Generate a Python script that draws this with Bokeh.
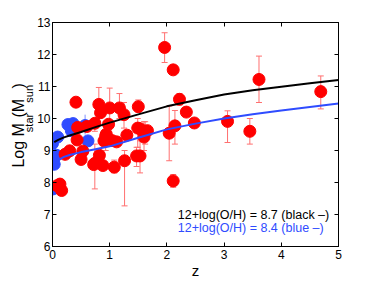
import math
from bokeh.plotting import figure
from bokeh.layouts import row
from bokeh.models import (ColumnDataSource, Whisker, TeeHead, Label, FixedTicker,
                          LinearAxis, Range1d)
from bokeh.embed import file_html
from bokeh.resources import INLINE

# ---- data ----
red_z = [1.96, 2.11, 2.22, 2.34, 2.48, 2.04, 2.14, 2.11, 0.41, 0.81, 0.84, 1.00, 1.17,
         1.25, 1.50, 0.98, 0.74, 0.44, 0.43, 0.22, 0.30, 0.53, 0.50, 0.74, 0.88, 0.82,
         0.90, 0.93, 1.04, 1.12, 1.08, 1.26, 1.30, 1.49, 1.53, 1.47, 1.53, 1.62, 1.66,
         1.60, 0.08, 0.13, 0.16, 3.61, 4.69, 3.06, 3.45, 0.60, 0.72, 0.94]
red_m = [12.22, 11.52, 10.60, 10.20, 9.86, 9.54, 9.77, 8.05, 10.51, 10.44, 10.18, 10.33,
         10.33, 10.12, 10.37, 9.82, 9.85, 9.72, 9.33, 8.88, 8.99, 8.98, 8.72, 8.60, 8.53,
         8.85, 9.30, 9.45, 9.31, 9.27, 8.48, 8.68, 9.48, 9.70, 9.68, 8.83, 8.83, 9.60,
         9.62, 9.42, 7.90, 7.95, 7.75, 11.22, 10.84, 9.91, 9.60, 9.75, 8.56, 9.51]

red_err_z = [1.96, 2.22, 2.04, 2.14, 2.11, 0.81, 1.00, 1.17, 1.25, 1.50, 0.74, 0.74,
             0.93, 1.08, 1.26, 1.49, 1.47, 1.53, 1.62, 1.60, 3.61, 4.69, 3.06, 3.45]
red_err_lo = [11.75, 10.42, 8.68, 9.20, 7.85, 10.00, 9.90, 10.00, 9.70, 10.20, 9.60, 7.80,
              9.00, 8.30, 7.27, 9.10, 8.50, 8.30, 9.20, 9.00, 10.50, 10.30, 9.25, 9.20]
red_err_hi = [12.68, 10.78, 10.39, 10.25, 8.25, 10.97, 10.95, 10.78, 10.50, 10.58, 10.00, 9.20,
              9.90, 8.70, 9.00, 10.00, 9.10, 9.30, 9.90, 9.90, 11.95, 11.33, 10.24, 10.00]

blue_z = [0.00, 0.09, 0.07, 0.03, 0.01, 0.27, 0.36, 0.33, 0.57, 0.62]
blue_m = [9.22, 9.42, 8.85, 8.57, 7.80, 9.81, 9.84, 9.62, 9.78, 9.30]

blue_err_z = [0.00, 0.57]
blue_err_lo = [8.60, 9.50]
blue_err_hi = [9.76, 10.12]

black_z = [0.03, 0.1, 0.2, 0.3, 0.5, 0.75, 1.0, 1.5, 2.0, 2.5, 3.0, 3.5, 4.0, 4.5, 5.0]
black_m = [9.26, 9.33, 9.41, 9.47, 9.58, 9.73, 9.87, 10.13, 10.38, 10.57, 10.75, 10.88,
           10.99, 11.10, 11.20]
blue_line_z = [0.06, 0.1, 0.2, 0.3, 0.5, 0.75, 1.0, 1.5, 2.0, 2.5, 3.0, 3.5, 4.0, 4.5, 5.0]
blue_line_m = [8.60, 8.70, 8.80, 8.86, 8.95, 9.04, 9.13, 9.40, 9.66, 9.84, 10.00, 10.13,
               10.25, 10.36, 10.47]

x_ticks = [0, 1, 2, 3, 4, 5]
y_ticks = [6, 7, 8, 9, 10, 11, 12, 13]
legend_lines = ["12+log(O/H) = 8.7 (black \u2013)", "12+log(O/H) = 8.4 (blue \u2013)"]
x_label = "z"
y_label_parts = ["Log M", "star", "(M", "sun", ")"]

RED = "#ff0000"
RED_ERR = "#ff7070"
BLUE = "#2f4cff"
BLUE_ERR = "#7f90ff"
FONT = "Liberation Sans"

# ---------- narrow strip holding the rotated y-axis label ----------
LW, H = 34, 281
lab = figure(width=LW, height=H, output_backend="svg", toolbar_location=None,
             x_range=Range1d(0, LW), y_range=Range1d(0, H),
             x_axis_location=None, y_axis_location=None,
             min_border=0, min_border_left=0, min_border_right=0,
             min_border_top=0, min_border_bottom=0)
lab.outline_line_color = None
lab.grid.visible = False
lab.background_fill_color = "white"
lab.border_fill_color = "white"

sizes = {"main": 16, "sub": 11}
widths = {"L": .556, "o": .556, "g": .556, " ": .278, "M": .833, "s": .5, "t": .278,
          "a": .556, "r": .333, "(": .333, ")": .333, "u": .556, "n": .556}
y_cursor = 182.0
for i, t in enumerate(y_label_parts):
    kind = "sub" if i % 2 == 1 else "main"
    fs = sizes[kind]
    cx = 28.5 if kind == "sub" else 17.5
    lab.add_layout(Label(x=cx, y=H - y_cursor, text=t, text_font=FONT,
                         text_font_size=f"{fs}px", text_color="black",
                         angle=math.pi / 2, text_align="left",
                         text_baseline="middle"))
    y_cursor -= sum(widths[c] for c in t) * fs

# ---------- main plot ----------
p = figure(width=374 - LW, height=H, output_backend="svg", toolbar_location=None,
           x_range=Range1d(0, 5), y_range=Range1d(6, 13),
           min_border_left=14, min_border_right=36, min_border_top=22, min_border_bottom=33)
p.background_fill_color = "white"
p.border_fill_color = "white"
p.outline_line_color = "black"
p.grid.visible = False

for ax in (p.xaxis[0], p.yaxis[0]):
    ax.major_tick_in = 4
    ax.major_tick_out = 0
    ax.minor_tick_line_color = None
    ax.axis_line_color = "black"
    ax.major_tick_line_color = "black"
    ax.major_label_text_font = FONT
    ax.major_label_text_font_size = "12px"
    ax.major_label_text_color = "black"
p.xaxis[0].ticker = FixedTicker(ticks=x_ticks)
p.yaxis[0].ticker = FixedTicker(ticks=y_ticks)
p.xaxis[0].major_label_standoff = 3
p.yaxis[0].major_label_standoff = 2
p.xaxis[0].axis_label = x_label
p.xaxis[0].axis_label_text_font = FONT
p.xaxis[0].axis_label_text_font_size = "15px"
p.xaxis[0].axis_label_text_font_style = "normal"
p.xaxis[0].axis_label_text_color = "black"
p.xaxis[0].axis_label_standoff = 0

top = LinearAxis(ticker=FixedTicker(ticks=x_ticks), major_label_text_color=None,
                 major_label_text_font_size="1px",
                 major_tick_in=4, major_tick_out=0, minor_tick_line_color=None,
                 major_label_standoff=0)
right = LinearAxis(ticker=FixedTicker(ticks=y_ticks), major_label_text_color=None,
                   major_label_text_font_size="1px",
                   major_tick_in=4, major_tick_out=0, minor_tick_line_color=None,
                   major_label_standoff=0)
p.add_layout(top, "above")
p.add_layout(right, "right")

# error bars
rsrc = ColumnDataSource(dict(z=red_err_z, lo=red_err_lo, hi=red_err_hi))
p.add_layout(Whisker(source=rsrc, base="z", lower="lo", upper="hi", line_color=RED_ERR,
                     line_width=1,
                     upper_head=TeeHead(size=6, line_color=RED_ERR, line_width=1),
                     lower_head=TeeHead(size=6, line_color=RED_ERR, line_width=1)))
bsrc = ColumnDataSource(dict(z=blue_err_z, lo=blue_err_lo, hi=blue_err_hi))
p.add_layout(Whisker(source=bsrc, base="z", lower="lo", upper="hi", line_color=BLUE_ERR,
                     line_width=1,
                     upper_head=TeeHead(size=0, line_color=BLUE_ERR),
                     lower_head=TeeHead(size=0, line_color=BLUE_ERR)))

p.scatter(blue_z, blue_m, size=12, fill_color=BLUE, line_color=BLUE)
p.scatter(red_z, red_m, size=12, fill_color=RED, line_color=RED)

p.line(black_z, black_m, line_color="black", line_width=2)
p.line(blue_line_z, blue_line_m, line_color=BLUE, line_width=2)

# legend-like texts
p.add_layout(Label(x=2.19, y=6.98, text=legend_lines[0], text_font=FONT,
                   text_font_size="12.5px", text_color="black", text_baseline="middle"))
p.add_layout(Label(x=2.19, y=6.57, text=legend_lines[1], text_font=FONT,
                   text_font_size="12.5px", text_color=BLUE, text_baseline="middle"))

layout = row(lab, p)
open("out.html", "w").write(file_html(layout, INLINE))
